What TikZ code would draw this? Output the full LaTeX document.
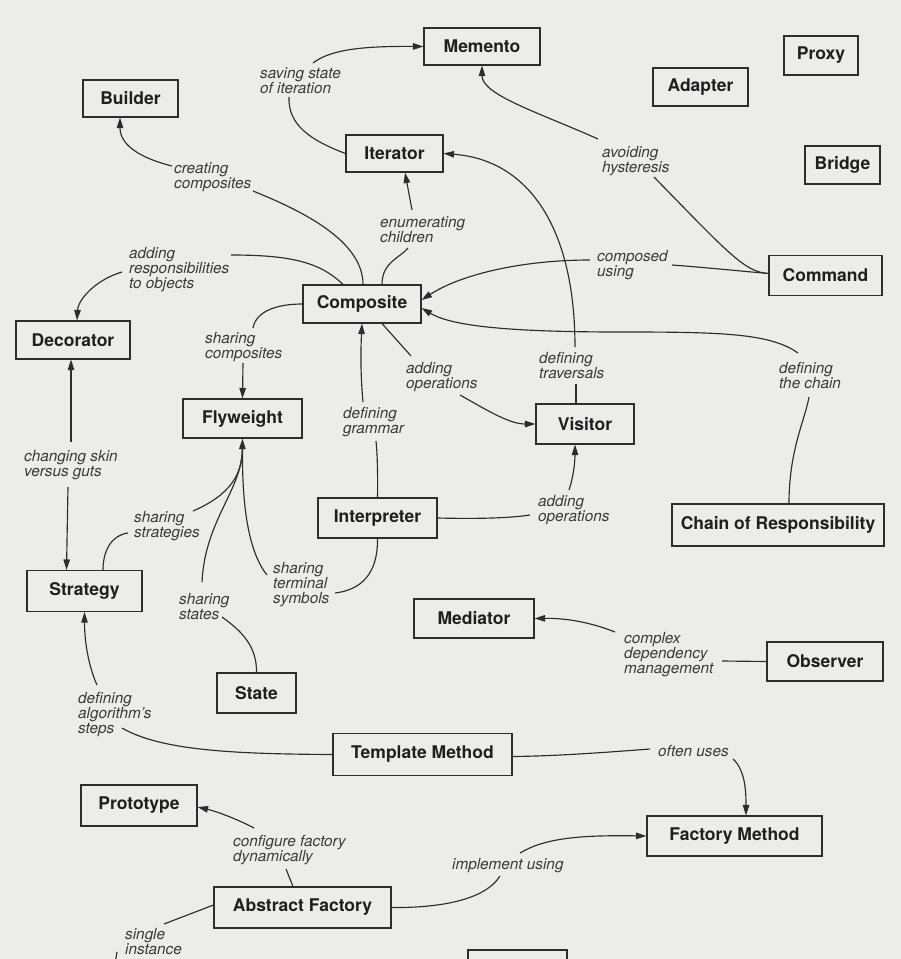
\documentclass[tikz,border=0pt]{standalone}
\usepackage{fontspec}
\setmainfont{TeX Gyre Heros}
\usetikzlibrary{arrows.meta}
\definecolor{paper}{RGB}{236,236,232}
\definecolor{ink}{RGB}{45,45,45}
\definecolor{labink}{RGB}{58,58,58}
\begin{document}
\begin{tikzpicture}[x=1pt,y=-1pt,
  box/.style={draw=ink, line width=1.1pt, fill=paper, text=black!88, font=\fontsize{17.5}{20}\selectfont\bfseries, inner sep=0pt},
  bx/.style 2 args={box, minimum width=#1pt, minimum height=#2pt},
  lab/.style={anchor=north west, inner sep=0pt, align=left, text=labink, font=\fontsize{15.3}{15}\selectfont\itshape},
  con/.style={draw=ink, line width=1.15pt},
  arr/.style={con, -{Triangle[length=10.5pt,width=6.5pt]}}]
\useasboundingbox (0,0) rectangle (901,959);
\fill[paper] (0,0) rectangle (901,959);
\clip (0,0) rectangle (901,959);

% ---------- nodes ----------
\node[bx={116}{37}] (Memento) at (482,46.5) {Memento};
\node[bx={95}{37}] (Builder) at (130.5,98.5) {Builder};
\node[bx={97}{37}] (Iterator) at (394.5,153.5) {Iterator};
\node[bx={74}{39}] (Proxy) at (821,55.5) {Proxy};
\node[bx={95}{38}] (Adapter) at (700.5,87) {Adapter};
\node[bx={75}{38}] (Bridge) at (842.5,165) {Bridge};
\node[bx={118}{38}] (Composite) at (362,304) {Composite};
\node[bx={113}{40}] (Command) at (825.5,275.5) {Command};
\node[bx={114}{38}] (Decorator) at (73,340) {Decorator};
\node[bx={119}{39}] (Flyweight) at (242.5,418.5) {Flyweight};
\node[bx={98}{40}] (Visitor) at (585,424) {Visitor};
\node[bx={119}{40}] (Interpreter) at (377.5,518) {Interpreter};
\node[bx={212}{42}] (CoR) at (778,525) {Chain of Responsibility};
\node[bx={115}{41}] (Strategy) at (84.5,591) {Strategy};
\node[bx={120}{39}] (Mediator) at (474,618.5) {Mediator};
\node[bx={79}{40}] (State) at (256.5,693) {State};
\node[bx={116}{39}] (Observer) at (825,661.5) {Observer};
\node[bx={179}{42}] (Template) at (422.5,754.5) {Template Method};
\node[bx={116}{41}] (Prototype) at (139,805.5) {Prototype};
\node[bx={175}{40}] (FactoryMethod) at (734.5,836) {Factory Method};
\node[bx={177}{41}] (AbstractFactory) at (302.5,907.5) {Abstract Factory};
\node[bx={99}{40}] (cutbox) at (517.5,970) {};

% ---------- labels ----------
\node[lab] (lsave) at (260,67) {saving state\\of iteration};
\node[lab] (lcreate) at (174,162) {creating\\composites};
\node[lab] (lenum) at (380,216) {enumerating\\children};
\node[lab] (lresp) at (129,247) {adding\\responsibilities\\to objects};
\node[lab] (lhyst) at (602,146) {avoiding\\hysteresis};
\node[lab] (lcomp) at (597,250) {composed\\using};
\node[lab] (lshcomp) at (205,332) {sharing\\composites};
\node[lab] (laddop) at (406,362) {adding\\operations};
\node[lab] (ltrav) at (539,352) {defining\\traversals};
\node[lab] (lchain) at (779,362) {defining\\the chain};
\node[lab] (lgram) at (343,407) {defining\\grammar};
\node[lab] (lskin) at (24,450) {changing skin\\versus guts};
\node[lab] (lstrat) at (134,511) {sharing\\strategies};
\node[lab] (laddopb) at (538,495) {adding\\operations};
\node[lab] (lterm) at (273,562) {sharing\\terminal\\symbols};
\node[lab] (lstates) at (179,593) {sharing\\states};
\node[lab] (lcomplex) at (624,632) {complex\\dependency\\management};
\node[lab] (lalgo) at (78,692) {defining\\algorithm's\\steps};
\node[lab] (loften) at (658,745) {often uses};
\node[lab] (lconf) at (233,835) {configure factory\\dynamically};
\node[lab] (limpl) at (452,858) {implement using};
\node[lab] (lsingle) at (125,928) {single\\instance};
\coordinate (offpage) at (113,975);

% ---------- connectors ----------
% Iterator -> Memento
\draw[con] (Iterator.west) .. controls (310,140) and (288,125) .. (289,97);
\draw[arr] (313,63) .. controls (330,50) and (360,46) .. (Memento.west);
% Composite -> Builder
\draw[con] ([xshift=1pt]Composite.north) .. controls (363,240) and (300,210) .. (253,191);
\draw[arr] (172,166) .. controls (140,158) and (120,145) .. ([xshift=-10.5pt]Builder.south);
% Composite -> Iterator
\draw[con] ([xshift=20pt]Composite.north) .. controls (382,262) and (400,258) .. (408,248);
\draw[arr] (412,210) -- ([xshift=10.5pt]Iterator.south);
% Composite -> Decorator
\draw[con] ([xshift=-19pt]Composite.north) .. controls (320,262) and (290,255) .. (231,255);
\draw[arr] (122,272) .. controls (95,280) and (78,300) .. ([xshift=4pt]Decorator.north);
% Command -> Memento
\draw[con] ([yshift=2pt]Command.west) .. controls (745,272) and (730,255) .. (654,177);
\draw[arr] (598,139) .. controls (540,113) and (482,95) .. (Memento.south);
% Command -> Composite
\draw[con] ([yshift=2pt]Command.west) .. controls (740,271) and (700,267) .. (672,265);
\draw[arr] (590,260) .. controls (520,260) and (460,275) .. ([yshift=4pt]Composite.east);
% Visitor -> Iterator
\draw[con] ([xshift=-9pt]Visitor.north) -- (576,384);
\draw[arr] (575,347) .. controls (575,230) and (530,160) .. (Iterator.east);
% Chain of Responsibility -> Composite
\draw[con] ([xshift=11pt]CoR.north) .. controls (789,450) and (805,420) .. (809,397);
\draw[arr] (798,353) .. controls (770,333) and (720,332) .. (620,332) .. controls (500,332) and (450,325) .. ([yshift=-4pt]Composite.east);
% Composite -> Flyweight
\draw[con] (Composite.west) .. controls (275,304) and (256,312) .. (253,328);
\draw[arr] (243,363) -- (Flyweight.north);
% Composite -> Visitor
\draw[con] ([xshift=20pt]Composite.south) -- (411,356);
\draw[arr] (460,395) .. controls (490,412) and (510,424) .. (Visitor.west);
% Interpreter -> Composite
\draw[con] (Interpreter.north) .. controls (378,470) and (377,450) .. (376,441);
\draw[arr] (363,402) .. controls (360,370) and (361,345) .. (Composite.south);
% Decorator <-> Strategy
\draw[arr] (71,442) -- ([xshift=-2pt]Decorator.south);
\draw[arr] (68,487) -- ([xshift=-18pt]Strategy.north);
% Strategy -> Flyweight
\draw[con] ([xshift=18.5pt]Strategy.north) .. controls (103,550) and (112,535) .. (128,533);
\draw[arr] (193,511) .. controls (230,495) and (242,475) .. (Flyweight.south);
% State -> Flyweight
\draw[con] (State.north) .. controls (257,645) and (240,630) .. (222,617);
\draw[con] (202,582) .. controls (205,520) and (242,490) .. ([yshift=-10pt]Flyweight.south);
% Interpreter -> Flyweight
\draw[con] (Interpreter.south) .. controls (378,575) and (360,590) .. (335,593);
\draw[con] (267,575) .. controls (247,550) and (242,500) .. ([yshift=-10pt]Flyweight.south);
% Interpreter -> Visitor
\draw[con] (Interpreter.east) .. controls (480,519) and (510,518) .. (530,515);
\draw[arr] (569,490) .. controls (574,475) and (575,460) .. ([xshift=-10pt]Visitor.south);
% Observer -> Mediator
\draw[con] (Observer.west) -- (722,661);
\draw[arr] (615,632) .. controls (590,622) and (565,618) .. (Mediator.east);
% Template Method -> Strategy
\draw[con] (Template.west) .. controls (230,754) and (160,750) .. (122,728);
\draw[arr] (97,685) .. controls (88,665) and (84.5,640) .. (Strategy.south);
% Template Method -> Factory Method
\draw[con] ([yshift=-2pt]Template.east) .. controls (560,756) and (610,752) .. (650,749);
\draw[arr] (733,759) .. controls (745,770) and (746,790) .. ([xshift=11.5pt]FactoryMethod.north);
% Abstract Factory -> Factory Method
\draw[con] (AbstractFactory.east) .. controls (440,908) and (485,900) .. (500,876);
\draw[arr] (520,853) .. controls (545,838) and (580,835) .. (FactoryMethod.west);
% Abstract Factory -> Prototype
\draw[con] ([xshift=-9.5pt]AbstractFactory.north) -- (286,869);
\draw[arr] (254,828) .. controls (235,818) and (215,811) .. ([yshift=-1.5pt]Prototype.east);
% Abstract Factory -> (off page)
\draw[con] ([yshift=2.5pt]AbstractFactory.west) -- (164,924);
\draw[con] (117,952) -- (offpage);
\end{tikzpicture}
\end{document}
